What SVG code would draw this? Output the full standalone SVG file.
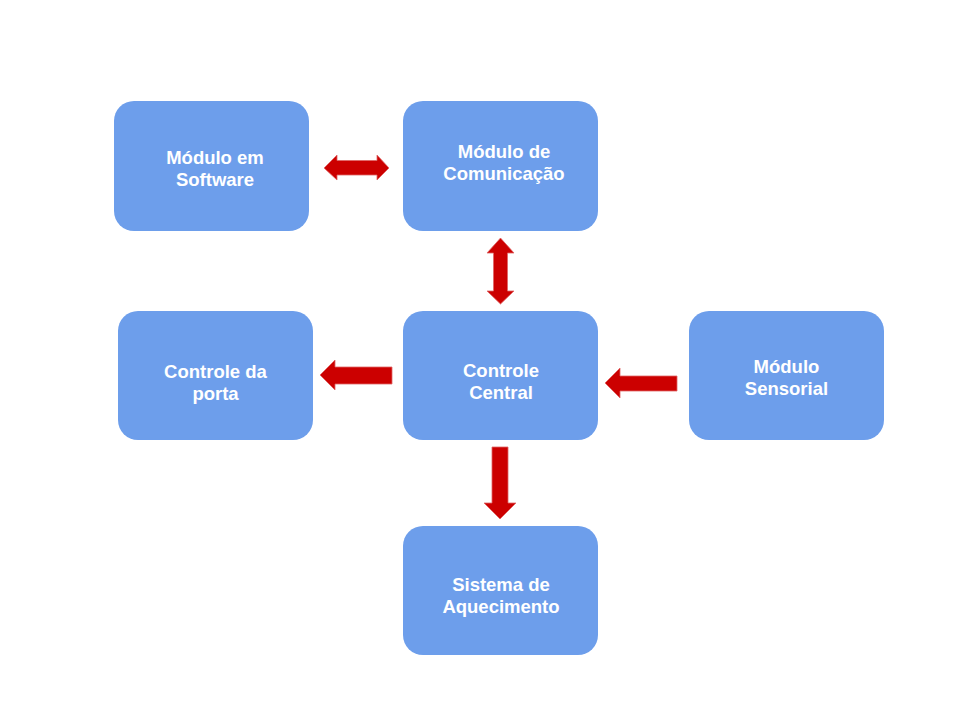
<svg xmlns="http://www.w3.org/2000/svg" width="960" height="720" viewBox="0 0 960 720">
<style>
.n{fill:#6d9eeb;}
.t{fill:#ffffff;font-family:"Liberation Sans",Arial,sans-serif;font-weight:bold;font-size:18.5px;text-anchor:middle;}
.a{fill:#cc0000;stroke:#e06666;stroke-width:0.8;}
</style>
<rect width="960" height="720" fill="#ffffff"/>
<g id="connectors">
<polygon class="a" points="324,168 337,155 337,160.5 377,160.5 377,155 389,168 377,180 377,175 337,175 337,180"/>
<polygon class="a" points="500.5,238 514,253 507.5,253 507.5,291 514,291 500.5,304 487,291 493.5,291 493.5,253 487,253"/>
<polygon class="a" points="320,375 335,360 335,367 392,367 392,384 335,384 335,390"/>
<polygon class="a" points="605,383 620,368 620,376 677,376 677,391 620,391 620,398"/>
<polygon class="a" points="492,447 508,447 508,503 516,503 500,519 484,503 492,503"/>
</g>
<g id="software">
<rect class="n" x="114" y="101" width="195" height="130" rx="20"/>
<text class="t" x="215" y="164">Módulo em</text>
<text class="t" x="215" y="186">Software</text>
</g>
<g id="comunicacao">
<rect class="n" x="403" y="101" width="195" height="130" rx="20"/>
<text class="t" x="504" y="158">Módulo de</text>
<text class="t" x="504" y="180">Comunicação</text>
</g>
<g id="porta">
<rect class="n" x="118" y="311" width="195" height="129" rx="20"/>
<text class="t" x="215.5" y="378">Controle da</text>
<text class="t" x="215.5" y="400">porta</text>
</g>
<g id="central">
<rect class="n" x="403" y="311" width="195" height="129" rx="20"/>
<text class="t" x="501" y="377">Controle</text>
<text class="t" x="501" y="399">Central</text>
</g>
<g id="sensorial">
<rect class="n" x="689" y="311" width="195" height="129" rx="20"/>
<text class="t" x="786.5" y="373">Módulo</text>
<text class="t" x="786.5" y="395">Sensorial</text>
</g>
<g id="aquecimento">
<rect class="n" x="403" y="526" width="195" height="129" rx="20"/>
<text class="t" x="501" y="591">Sistema de</text>
<text class="t" x="501" y="613">Aquecimento</text>
</g>
</svg>
